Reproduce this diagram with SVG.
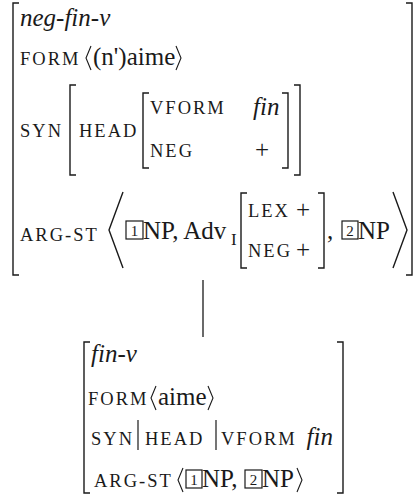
<svg xmlns="http://www.w3.org/2000/svg" width="415" height="500" viewBox="0 0 415 500">
<style>
.t{font-family:'Liberation Serif',serif;font-size:25px;fill:#1a1a1a}
.it{font-family:'Liberation Serif',serif;font-size:25px;font-style:italic;fill:#1a1a1a}
.sc{font-family:'Liberation Serif',serif;font-size:18.5px;letter-spacing:2px;fill:#1a1a1a}
.sub{font-family:'Liberation Serif',serif;font-size:17px;fill:#1a1a1a}
.num{font-family:'Liberation Serif',serif;font-size:15px;text-anchor:middle;fill:#1a1a1a}
.br{fill:none;stroke:#1a1a1a;stroke-width:1.4}
.bx{fill:none;stroke:#1a1a1a;stroke-width:1.2}
.ab{fill:none;stroke:#1a1a1a;stroke-width:1.1}
</style>
<rect width="415" height="500" fill="#fff"/>
<g id="neg-fin-v">
<path class="br" d="M19,3 H13 V275 H19"/>
<path class="br" d="M406,3 H412 V275 H406"/>
<text class="it" x="20" y="26">neg-fin-v</text>
<text class="sc" x="20" y="65">FORM</text>
<path class="ab" d="M91,46 L86,58 L91,70"/>
<text class="t" x="93" y="65">(n')aime</text>
<path class="ab" d="M176,46 L181,58 L176,70"/>
<text class="sc" x="20" y="137">SYN</text>
<path class="br" d="M76,85 H70 V175 H76"/>
<text class="sc" x="79" y="137">HEAD</text>
<path class="br" d="M149,93 H143 V168 H149"/>
<text class="sc" x="150" y="114">VFORM</text>
<text class="it" x="253" y="115">fin</text>
<text class="sc" x="150" y="157">NEG</text>
<text class="t" x="262" y="158" text-anchor="middle">+</text>
<path class="br" d="M282,93 H288 V168 H282"/>
<path class="br" d="M294,85 H300 V175 H294"/>
<text class="sc" x="20" y="241">ARG-ST</text>
<path class="br" d="M123,192 L109,230 L123,268"/>
<rect class="bx" x="126" y="221" width="17" height="18"/>
<text class="num" x="134.5" y="236">1</text>
<text class="t" x="143" y="239">NP, Adv</text>
<text class="sub" x="231" y="245">I</text>
<path class="br" d="M247,193 H241 V268 H247"/>
<text class="sc" x="248" y="217">LEX</text>
<text class="t" x="303" y="218" text-anchor="middle">+</text>
<text class="sc" x="248" y="257">NEG</text>
<text class="t" x="303" y="258" text-anchor="middle">+</text>
<path class="br" d="M318,193 H324 V268 H318"/>
<text class="t" x="327" y="239">,</text>
<rect class="bx" x="342" y="221" width="16" height="18"/>
<text class="num" x="350" y="236">2</text>
<text class="t" x="358" y="239">NP</text>
<path class="br" d="M393,192 L407,230 L393,268"/>
</g>
<g id="connectors">
<line x1="203" y1="280" x2="203" y2="337" stroke="#1a1a1a" stroke-width="1.3"/>
</g>
<g id="fin-v">
<path class="br" d="M90,342 H84 V493 H90"/>
<path class="br" d="M337,342 H343 V493 H337"/>
<text class="it" x="91" y="362">fin-v</text>
<text class="sc" x="88" y="405">FORM</text>
<path class="ab" d="M156,386 L151,398 L156,410"/>
<text class="t" x="158" y="405">aime</text>
<path class="ab" d="M208,386 L213,398 L208,410"/>
<text class="sc" x="91" y="445">SYN</text>
<line x1="138" y1="420" x2="138" y2="450" stroke="#1a1a1a" stroke-width="1.2"/>
<text class="sc" x="145" y="445">HEAD</text>
<line x1="216" y1="420" x2="216" y2="450" stroke="#1a1a1a" stroke-width="1.2"/>
<text class="sc" x="221" y="445">VFORM</text>
<text class="it" x="333" y="445" text-anchor="end">fin</text>
<text class="sc" x="94" y="487">ARG-ST</text>
<path class="ab" d="M183,468 L178,480 L183,492"/>
<rect class="bx" x="186" y="470" width="16" height="18"/>
<text class="num" x="194" y="485">1</text>
<text class="t" x="202" y="487">NP,</text>
<rect class="bx" x="245" y="470" width="17" height="18"/>
<text class="num" x="253.5" y="485">2</text>
<text class="t" x="262" y="487">NP</text>
<path class="ab" d="M297,468 L302,480 L297,492"/>
</g>
</svg>
